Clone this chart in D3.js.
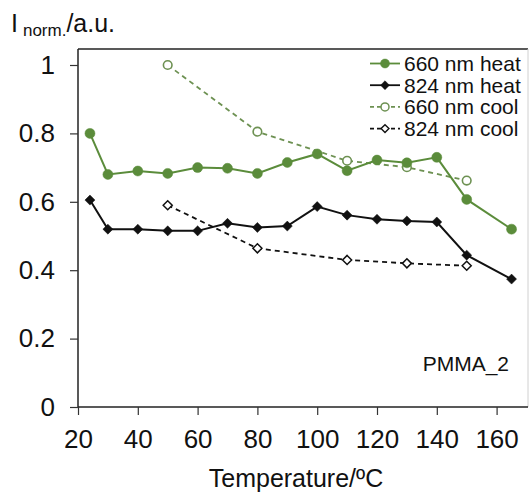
<!DOCTYPE html>
<html><head><meta charset="utf-8">
<script src="https://cdn.jsdelivr.net/npm/d3@7"></script>
<style>body{margin:0;background:#fff}svg{display:block}text{font-family:"Liberation Sans",Arial,sans-serif;fill:#111}</style>
</head><body><svg id="c" width="530" height="497"></svg>
<script>
const temps = [24,30,40,50,60,70,80,90,100,110,120,130,140,150,165];
const heat660 = [0.80,0.68,0.69,0.683,0.70,0.698,0.683,0.715,0.74,0.691,0.722,0.714,0.73,0.607,0.52];
const heat824 = [0.605,0.52,0.52,0.515,0.515,0.537,0.525,0.529,0.586,0.561,0.549,0.544,0.541,0.444,0.374];
const coolTemps = [50,80,110,130,150];
const cool660 = [1.0,0.805,0.72,0.701,0.662];
const cool824 = [0.59,0.464,0.43,0.42,0.413];
const xTicks = [20,40,60,80,100,120,140,160];
const yTicks = [0,0.2,0.4,0.6,0.8,1];
const legendLabels = ["660 nm heat","824 nm heat","660 nm cool","824 nm cool"];

const GREEN = "#5b8c3b", GREEN_L = "#6d9152";
const svg = d3.select("#c");
const L = 78, R = 528, B = 407, T = 49;
const x = d3.scaleLinear().domain([20, 20 + (R - L) / 2.99]).range([L, R]);
const y = d3.scaleLinear().domain([0, (B - T) / 342]).range([B, T]);

// frame
svg.append("line").attr("x1",L).attr("x2",R).attr("y1",T).attr("y2",T).attr("stroke","#222").attr("stroke-width",1.5);
svg.append("line").attr("x1",R).attr("x2",R).attr("y1",T).attr("y2",B).attr("stroke","#d0d0d0").attr("stroke-width",1);

const xa = svg.append("g").attr("transform",`translate(0,${B})`)
  .call(d3.axisBottom(x).tickValues(xTicks).tickSize(8).tickPadding(15).tickFormat(d3.format("d")));
const ya = svg.append("g").attr("transform",`translate(${L},0)`)
  .call(d3.axisLeft(y).tickValues(yTicks).tickSize(8).tickPadding(15).tickFormat(d => d === 0 || d === 1 ? String(d) : d3.format(".1f")(d)));
[xa, ya].forEach(g => {
  g.select(".domain").attr("stroke","#222").attr("stroke-width",1.5);
  g.selectAll(".tick line").attr("stroke","#333").attr("stroke-width",1.2);
  g.selectAll("text").attr("font-size",26).attr("font-family","'Liberation Sans',Arial,sans-serif").attr("fill","#111");
});
ya.select(".domain").attr("d",`M0,${B}V${T}`);
xa.select(".domain").attr("d",`M${L},0H${R}`);

// titles
svg.append("text").attr("x",(L+R)/2 - 7).attr("y",487).attr("text-anchor","middle").attr("font-size",25).text("Temperature/ºC");
const yt = svg.append("text").attr("x",11).attr("y",32).attr("font-size",25);
yt.append("tspan").text("I");
yt.append("tspan").attr("font-size",17).attr("dx",5).attr("dy",4).text("norm.");
yt.append("tspan").attr("dy",-4).text("/a.u.");

svg.append("text").attr("x",509).attr("y",371).attr("text-anchor","end").attr("font-size",21).text("PMMA_2");

const line = d3.line().x(d => x(d[0])).y(d => y(d[1]));
const zip = (a,b) => a.map((v,i) => [v, b[i]]);
const diamond = d3.symbol().type(d3.symbolDiamond2);

function series(pts, color, dash, width, marker, filled) {
  svg.append("path").datum(pts).attr("d", line).attr("fill","none").attr("stroke",color)
    .attr("stroke-width",width).attr("stroke-dasharray",dash || null);
  const g = svg.append("g");
  if (marker === "circle") {
    g.selectAll("circle").data(pts).join("circle").attr("cx",d=>x(d[0])).attr("cy",d=>y(d[1]))
      .attr("r", filled ? 5 : 4.3).attr("fill", filled ? color : "#fff").attr("stroke", color).attr("stroke-width", filled ? 0.5 : 1.6);
  } else {
    g.selectAll("path").data(pts).join("path").attr("transform",d=>`translate(${x(d[0])},${y(d[1])})`)
      .attr("d", diamond.size(filled ? 64 : 52)()).attr("fill", filled ? color : "#fff").attr("stroke", color).attr("stroke-width", filled ? 0.5 : 1.5);
  }
}
series(zip(coolTemps,cool660), GREEN_L, "5,4", 1.8, "circle", false);
series(zip(coolTemps,cool824), "#111", "5,4", 1.8, "diamond", false);
series(zip(temps,heat660), GREEN, null, 2, "circle", true);
series(zip(temps,heat824), "#111", null, 2, "diamond", true);

// legend
const lg = svg.append("g");
const styles = [[GREEN,null,"circle",true],["#111",null,"diamond",true],[GREEN_L,"4,3","circle",false],["#111","4,3","diamond",false]];
legendLabels.forEach((lab,i) => {
  const cy = 63.5 + i*21.7;
  const [c,dash,m,f] = styles[i];
  lg.append("line").attr("x1",370).attr("x2",400).attr("y1",cy).attr("y2",cy).attr("stroke",c).attr("stroke-width",1.8).attr("stroke-dasharray",dash);
  if (m === "circle") lg.append("circle").attr("cx",385).attr("cy",cy).attr("r",f?4.5:4).attr("fill",f?c:"#fff").attr("stroke",c).attr("stroke-width",f?0.5:1.5);
  else lg.append("path").attr("transform",`translate(385,${cy})`).attr("d",diamond.size(f?50:40)()).attr("fill",f?c:"#fff").attr("stroke",c).attr("stroke-width",f?0.5:1.4);
  lg.append("text").attr("x",404).attr("y",cy+7.5).attr("font-size",21).text(lab);
});
</script></body></html>
